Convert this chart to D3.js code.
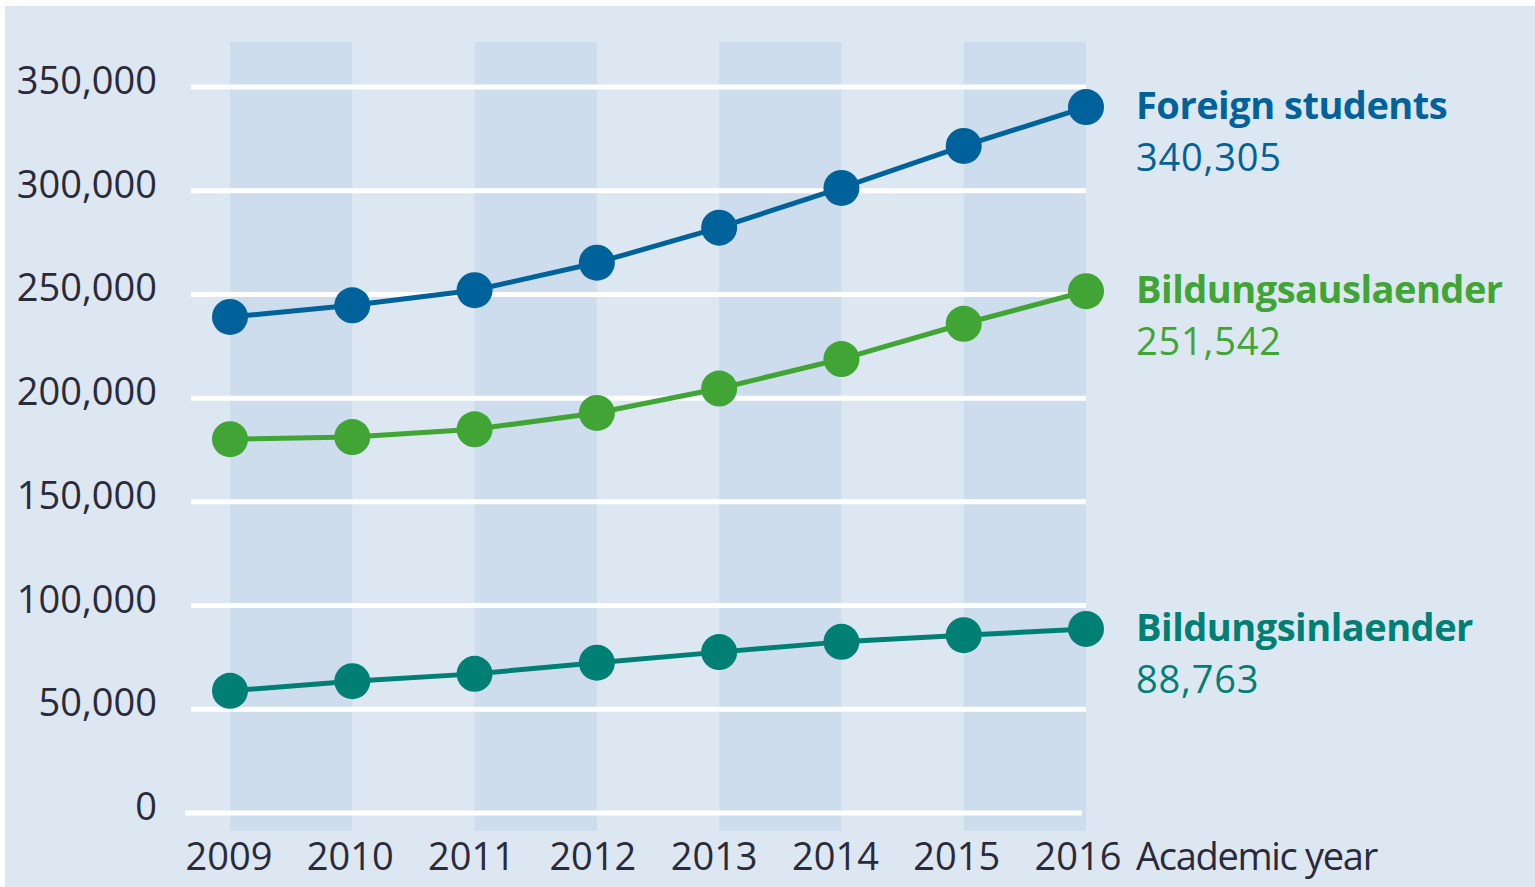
<!DOCTYPE html>
<html>
<head>
<meta charset="utf-8">
<script src="https://cdn.jsdelivr.net/npm/d3@7"></script>
<style>
  html, body { margin: 0; padding: 0; background: #fff; }
  svg { display: block; }
  text { font-family: "Open Sans", "Noto Sans", sans-serif; }
</style>
</head>
<body>
<svg id="chart"></svg>
<script>
// data
const years = [2009, 2010, 2011, 2012, 2013, 2014, 2015, 2016];
const foreignStudents = [239143, 244775, 252032, 265292, 282201, 301350, 321569, 340305];
const bildungsauslaender = [180222, 181249, 184960, 192853, 204644, 218848, 235858, 251542];
const bildungsinlaender = [58921, 63526, 67072, 72439, 77557, 82502, 85711, 88763];
const yTicks = [0, 50000, 100000, 150000, 200000, 250000, 300000, 350000];
const seriesNames = ["Foreign students", "Bildungsauslaender", "Bildungsinlaender"];
const seriesColors = ["#00629b", "#40a535", "#008075"];
const xAxisTitle = "Academic year";

window.onload = () => {
    const svgWidth = 1535, svgHeight = 887;
    const svg = d3.select("#chart")
        .attr("width", svgWidth)
        .attr("height", svgHeight);

    // light blue panel
    svg.append("rect")
        .attr("x", 5).attr("y", 6)
        .attr("width", svgWidth - 5).attr("height", svgHeight - 6)
        .attr("fill", "#dce7f2");

    const x = d3.scaleLinear().domain([2009, 2016]).range([230, 1086]);
    // the year labels sit a little left of the points towards the right
    const xLabel = d3.scaleLinear().domain([2009, 2016]).range([229, 1078]);
    const y = d3.scaleLinear().domain([0, 350000]).range([813, 87]);
    const step = x(2010) - x(2009);

    // alternating column bands
    svg.append("g")
        .selectAll("rect")
        .data(years.filter((d, i) => i % 2 == 0))
        .join("rect")
        .attr("x", d => x(d))
        .attr("y", 42)
        .attr("width", step)
        .attr("height", 831 - 42)
        .attr("fill", "#cddded");

    // gridlines
    svg.append("g")
        .selectAll("line")
        .data(yTicks)
        .join("line")
        .attr("x1", d => d == 0 ? 185 : 191)
        .attr("x2", d => d == 0 ? 1082 : 1086)
        .attr("y1", d => y(d))
        .attr("y2", d => y(d))
        .attr("stroke", "#fff")
        .attr("stroke-width", 5);

    // y tick labels
    svg.append("g")
        .selectAll("text")
        .data(yTicks)
        .join("text")
        .attr("x", 157)
        .attr("y", d => y(d) + 7)
        .attr("text-anchor", "end")
        .attr("font-size", 38)
        .attr("fill", "#2b2a3a")
        .text(d => d3.format(",")(d));

    // x tick labels
    svg.append("g")
        .selectAll("text")
        .data(years)
        .join("text")
        .attr("x", d => xLabel(d))
        .attr("y", 870)
        .attr("text-anchor", "middle")
        .attr("font-size", 38)
        .attr("fill", "#2b2a3a")
        .text(d => d);

    svg.append("text")
        .attr("x", 1136)
        .attr("y", 870)
        .attr("font-size", 38)
        .attr("letter-spacing", -1.3)
        .attr("fill", "#2b2a3a")
        .text(xAxisTitle);

    const allSeries = [foreignStudents, bildungsauslaender, bildungsinlaender];

    let line = d3.line()
        .x((d, i) => x(years[i]))
        .y(d => y(d));

    allSeries.forEach((values, s) => {
        const color = seriesColors[s];
        svg.append("path")
            .datum(values)
            .attr("fill", "none")
            .attr("stroke", color)
            .attr("stroke-width", 5)
            .attr("stroke-linejoin", "round")
            .attr("d", line);

        svg.append("g")
            .selectAll("circle")
            .data(values)
            .join("circle")
            .attr("cx", (d, i) => x(years[i]))
            .attr("cy", d => y(d))
            .attr("r", 18)
            .attr("fill", color);

        const last = values[values.length - 1];
        svg.append("text")
            .attr("x", 1136)
            .attr("y", y(last) + 12)
            .attr("font-size", 38)
            .attr("font-weight", "bold")
            .attr("letter-spacing", -0.5)
            .attr("fill", color)
            .text(seriesNames[s]);

        svg.append("text")
            .attr("x", 1136)
            .attr("y", y(last) + 64)
            .attr("font-size", 38)
            .attr("letter-spacing", 0.8)
            .attr("fill", color)
            .text(d3.format(",")(last));
    });
}
</script>
</body>
</html>
